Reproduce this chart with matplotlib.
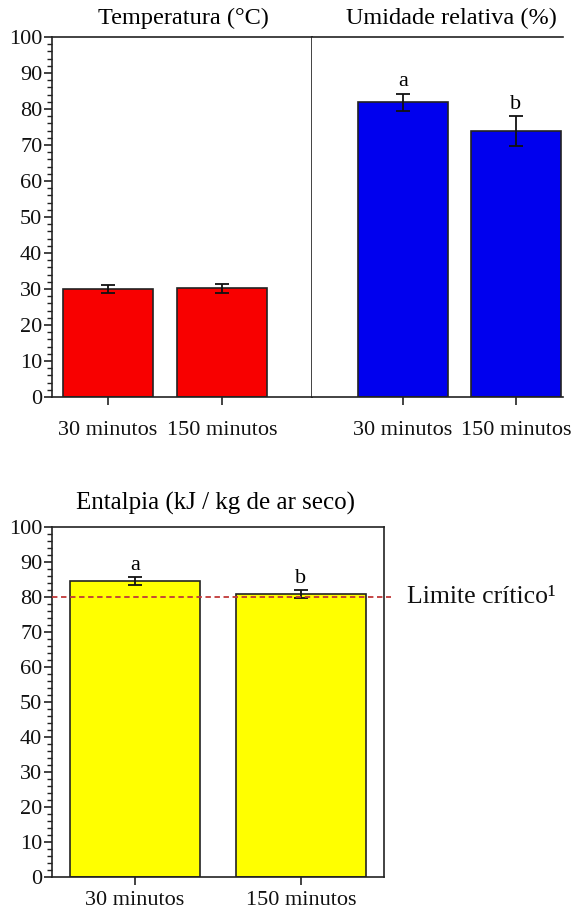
import matplotlib
matplotlib.use("Agg")
import matplotlib.pyplot as plt
from matplotlib.ticker import MultipleLocator

plt.rcParams['font.family'] = ['Liberation Serif', 'DejaVu Serif']

categories = ["30 minutos", "150 minutos"]
temp_mean = [30.0, 30.2]
temp_err = [1.2, 1.2]
ur_mean = [81.9, 73.9]
ur_err = [2.4, 4.2]
ur_letters = ["a", "b"]
ent_mean = [84.5, 80.8]
ent_err = [1.1, 1.2]
ent_letters = ["a", "b"]
limite = 80
yticks = [0, 10, 20, 30, 40, 50, 60, 70, 80, 90, 100]

W, H = 571, 910
fig = plt.figure(figsize=(W / 100, H / 100), dpi=100)

def rect(l, t, r, b):
    return [l / W, 1 - b / H, (r - l) / W, (b - t) / H]

FS = 16
TFS = 17.5
BW = 0.79

def style_y(ax, show, xpad):
    ax.set_ylim(0, 100)
    ax.set_yticks(yticks)
    ax.yaxis.set_minor_locator(MultipleLocator(2))
    if show:
        ax.tick_params(axis='y', which='major', direction='out', length=6, width=1.2,
                       labelsize=FS, pad=1, colors='#222222', labelcolor='#111111')
        ax.tick_params(axis='y', which='minor', direction='out', length=3.5, width=1,
                       colors='#222222')
    else:
        ax.tick_params(axis='y', which='both', left=False, labelleft=False)
    ax.tick_params(axis='x', direction='out', length=6, width=1.2, labelsize=FS, pad=xpad,
                   colors='#222222', labelcolor='#111111')
    for s in ax.spines.values():
        s.set_linewidth(1.2)
        s.set_color('#222222')

ebkw = dict(ecolor='#111111', capsize=5, elinewidth=1.3, capthick=1.3)

# top-left: temperature
ax1 = fig.add_axes(rect(52, 37, 312, 397))
x = [0, 1]
ax1.bar(x, temp_mean, width=BW, color='#f80000', edgecolor='#222222', linewidth=1.2,
        yerr=temp_err, error_kw=ebkw)
ax1.set_xlim(-0.491, 1.789)
ax1.set_xticks(x)
ax1.set_xticklabels(categories)
style_y(ax1, True, 11)

# top-right: relative humidity
ax2 = fig.add_axes(rect(312, 37, 563, 397))
ax2.bar(x, ur_mean, width=BW, color='#0000ee', edgecolor='#222222', linewidth=1.2,
        yerr=ur_err, error_kw=ebkw)
ax2.set_xlim(-0.805, 1.416)
ax2.set_xticks(x)
ax2.set_xticklabels(categories)
style_y(ax2, False, 11)
ax2.spines['left'].set_visible(False)
ax2.spines['right'].set_visible(False)
for xi, m, e, lab in zip(x, ur_mean, ur_err, ur_letters):
    ax2.text(xi, m + e + 0.6, lab, ha='center', va='bottom', fontsize=FS)

fig.text(183 / W, 1 - 18 / H, "Temperatura (°C)", ha='center', va='center', fontsize=TFS)
fig.text(451 / W, 1 - 18 / H, "Umidade relativa (%)", ha='center', va='center', fontsize=TFS)

# bottom: enthalpy
ax3 = fig.add_axes(rect(52, 527, 384, 877))
ax3.bar(x, ent_mean, width=0.78, color='#ffff00', edgecolor='#222222', linewidth=1.2,
        yerr=ent_err, error_kw=ebkw, zorder=2)
ax3.set_xlim(-0.5, 1.5)
ax3.set_xticks(x)
ax3.set_xticklabels(categories)
style_y(ax3, True, 4)
ax3.plot([-0.5, 1.54], [limite, limite], linestyle=(0, (3, 2)), color='#c03838',
         linewidth=1.3, clip_on=False, zorder=3)
ax3.text(1.64, limite, "Limite crítico¹", ha='left', va='center', fontsize=18.5,
         color='#111111')
for xi, m, e, lab in zip(x, ent_mean, ent_err, ent_letters):
    ax3.text(xi, m + e + 0.6, lab, ha='center', va='bottom', fontsize=FS)
fig.text(216 / W, 1 - 503 / H, "Entalpia (kJ / kg de ar seco)", ha='center', va='center',
         fontsize=18)

fig.savefig("out.png", dpi=100)
